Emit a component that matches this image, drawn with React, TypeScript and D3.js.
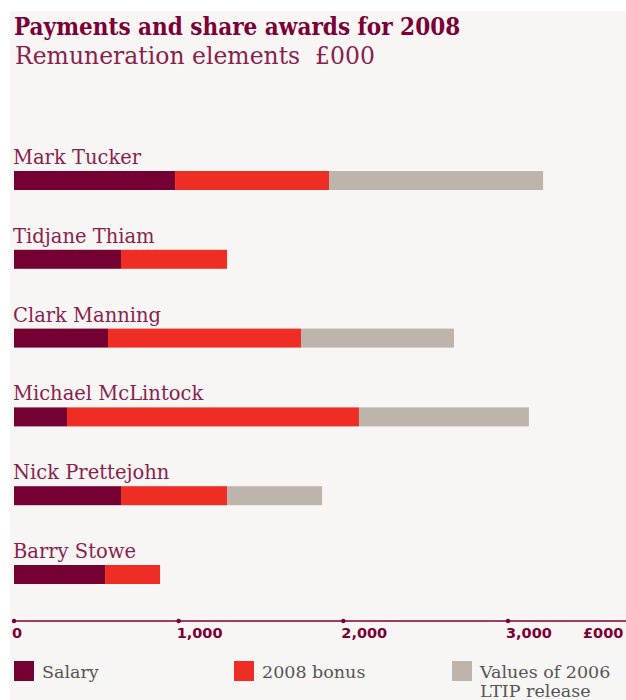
import React from "react";
import * as d3 from "d3";

const names = ["Mark Tucker", "Tidjane Thiam", "Clark Manning", "Michael McLintock", "Nick Prettejohn", "Barry Stowe"];
const salary = [978, 650, 571, 322, 650, 553];
const bonus = [935, 644, 1172, 1773, 644, 334];
const ltip = [1300, 0, 929, 1032, 577, 0];
const seriesKeys = ["salary", "bonus", "ltip"];
const seriesLabels = [["Salary"], ["2008 bonus"], ["Values of 2006", "LTIP release"]];
const tickValues = [0, 1000, 2000, 3000];
const unitLabel = "£000";
const title = "Payments and share awards for 2008";
const subtitle = "Remuneration elements\u00a0\u00a0£000";

const colors = ["#750032", "#ee2e24", "#bdb4ab"];
const maroon = "#7a0035";
const nameColor = "#8a1f4e";
const serifC = "'DejaVu Serif Condensed', 'DejaVu Serif', serif";
const serif = "'DejaVu Serif', serif";

export default function App() {
  const W = 626, H = 700;
  const x = d3.scaleLinear().domain([0, 3000]).range([14, 508]);
  const y = d3.scalePoint<string>().domain(names).range([171, 565]);
  const barH = 19;
  const rows = names.map((n, i) => ({ name: n, salary: salary[i], bonus: bonus[i], ltip: ltip[i] }));
  const stack = d3.stack<any>().keys(seriesKeys)(rows);
  const axisY = 621;
  const legendX = [14, 234, 452];

  return (
    <svg width={W} height={H} style={{ position: "absolute", left: 0, top: 0 }}>
      <rect x={0} y={0} width={W} height={H} fill="#ffffff" />
      <rect x={10} y={11} width={W - 10} height={H - 11} fill="#f7f6f4" />
      <text x={14} y={35} fontFamily={serifC} fontWeight="bold" fontSize={24} fill={maroon}>{title}</text>
      <text x={15} y={64} fontFamily={serif} fontSize={23.5} fill={nameColor}>{subtitle}</text>

      {names.map((n) => (
        <text key={n} x={13} y={(y(n) as number) - 7} fontFamily={serif} fontSize={19.5} fill={nameColor}>{n}</text>
      ))}

      {stack.map((s, si) => (
        <g key={s.key} fill={colors[si]}>
          {s.map((d, i) => (
            d[1] - d[0] > 0 ? (
              <rect key={i} x={x(d[0])} y={y(names[i]) as number} width={x(d[1]) - x(d[0])} height={barH} />
            ) : null
          ))}
        </g>
      ))}

      <line x1={x(0)} x2={W} y1={axisY} y2={axisY} stroke={maroon} strokeWidth={1.5} />
      {tickValues.map((t) => (
        <g key={t}>
          <circle cx={x(t)} cy={axisY} r={2.2} fill={maroon} />
          <text x={x(t) - 2} y={638} fontFamily="'DejaVu Sans', sans-serif" fontWeight="bold" fontSize={14.5} fill={maroon}>{d3.format(",")(t)}</text>
        </g>
      ))}
      <text x={583} y={638} fontFamily="'DejaVu Sans', sans-serif" fontWeight="bold" fontSize={14.5} fill={maroon}>{unitLabel}</text>

      {seriesKeys.map((k, i) => (
        <g key={k}>
          <rect x={legendX[i]} y={661} width={20} height={20} fill={colors[i]} />
          {seriesLabels[i].map((l, j) => (
            <text key={j} x={legendX[i] + 28} y={678 + j * 19} fontFamily={serif} fontSize={17.5} fill="#555555">{l}</text>
          ))}
        </g>
      ))}
    </svg>
  );
}
